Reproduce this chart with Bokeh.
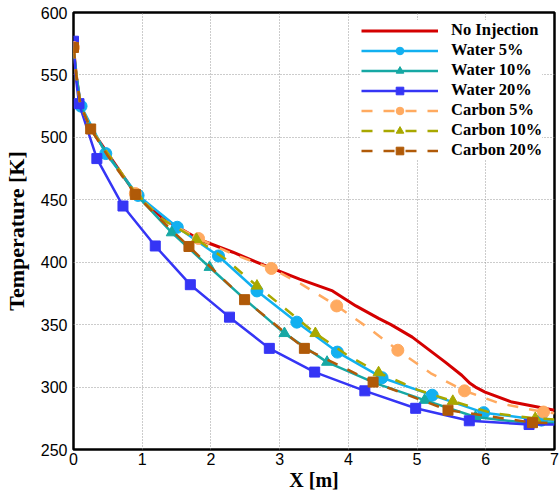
from bokeh.plotting import figure
from bokeh.models import Legend, LegendItem, FixedTicker, Range1d
from bokeh.embed import file_html
from bokeh.resources import INLINE

# ---------------- data ----------------
x_tick_values = [0, 1, 2, 3, 4, 5, 6, 7]
y_tick_values = [250, 300, 350, 400, 450, 500, 550, 600]

series_names = ["No Injection", "Water 5%", "Water 10%", "Water 20%",
                "Carbon 5%", "Carbon 10%", "Carbon 20%"]

# No Injection (line only)
noinj_x = [0, 0.04, 0.1, 0.25, 0.5, 0.9, 1.3, 1.84, 2.32, 2.8, 3.29, 3.77, 4.11, 4.44,
           4.62, 4.93, 5.41, 5.65, 5.77, 5.85, 5.99, 6.38, 7.0]
noinj_t = [572, 550, 526, 507, 487, 455, 435, 418, 408, 397, 386.5, 377, 365, 355,
           350, 340, 320, 309.5, 303, 300, 296, 288, 281.5]

# Water 5%
w5_x = [0, 0.04, 0.11, 0.47, 0.94, 1.51, 2.11, 2.67, 3.25, 3.84, 4.49, 5.22, 5.97, 6.81, 7.0]
w5_t = [572, 550, 525, 487, 453.5, 428, 405, 377, 352, 328, 307.5, 293.5, 279.5, 273.5, 273]
w5_mx = [0.11, 0.47, 0.94, 1.51, 2.11, 2.67, 3.25, 3.84, 4.49, 5.22, 5.97, 6.81]
w5_mt = [525, 487, 453.5, 428, 405, 377, 352, 328, 307.5, 293.5, 279.5, 273.5]

# Water 10%
w10_x = [0, 0.04, 0.1, 0.25, 0.5, 0.9, 1.43, 1.98, 2.5, 3.07, 3.69, 4.4, 5.11, 5.85, 6.5, 7.0]
w10_t = [572, 550, 526, 507, 486, 455, 423.7, 396, 370, 343, 320, 303, 289.5, 276, 272, 271]
w10_mx = [1.43, 1.98, 3.07, 3.69, 5.11, 5.85]
w10_mt = [423.7, 396, 343, 320, 289.5, 276]

# Water 20%
w20_x = [0, 0.03, 0.08, 0.34, 0.72, 1.19, 1.70, 2.27, 2.85, 3.51, 4.24, 4.98, 5.76, 6.63, 7.0]
w20_t = [577, 550, 527, 483, 445, 413, 382, 356, 331, 312, 297, 283, 273, 270, 270]
w20_mx = [0, 0.08, 0.34, 0.72, 1.19, 1.70, 2.27, 2.85, 3.51, 4.24, 4.98, 5.76, 6.63]
w20_mt = [577, 527, 483, 445, 413, 382, 356, 331, 312, 297, 283, 273, 270]

# Carbon 5%
c5_x = [0, 0.04, 0.1, 0.25, 0.5, 0.9, 1.3, 1.82, 2.3, 2.88, 3.3, 3.83, 4.3, 4.72, 5.2,
        5.69, 6.2, 6.84, 7.0]
c5_t = [572, 550, 526, 507, 487, 455, 434, 419, 407, 395, 383, 365, 347, 329.5, 311,
        297, 287, 280, 279]
c5_mx = [0, 0.9, 1.82, 2.88, 3.83, 4.72, 5.69, 6.84]
c5_mt = [572, 455, 419, 395, 365, 329.5, 297, 280]

# Carbon 10%
c10_x = [0, 0.04, 0.1, 0.25, 0.5, 0.93, 1.3, 1.79, 2.2, 2.67, 3.1, 3.52, 4.0, 4.44, 5.0,
         5.52, 6.1, 6.72, 7.0]
c10_t = [572, 550, 526, 507, 487, 453, 434, 418.4, 403, 381, 362, 343, 325, 311.6, 298,
         288.7, 279, 275, 274]
c10_mx = [0.93, 1.79, 2.67, 3.52, 4.44, 5.52, 6.72]
c10_mt = [453, 418.4, 381, 343, 311.6, 288.7, 275]

# Carbon 20%
c20_x = [0, 0.04, 0.1, 0.25, 0.5, 0.9, 1.25, 1.68, 2.49, 3.36, 4.36, 5.45, 6.68, 7.0]
c20_t = [572, 550, 526, 506.7, 485, 454.3, 435, 412.6, 370, 331, 304, 281.5, 271.5, 271]
c20_mx = [0, 0.25, 0.9, 1.68, 2.49, 3.36, 4.36, 5.45, 6.68]
c20_mt = [572, 506.7, 454.3, 412.6, 370, 331, 304, 281.5, 271.5]

# ---------------- figure ----------------
FW, FH = 481, 437
p = figure(frame_width=FW, frame_height=FH, output_backend="svg", toolbar_location=None,
           x_range=Range1d(0, 7), y_range=Range1d(250, 600),
           min_border_left=73, min_border_right=5, min_border_top=12, min_border_bottom=0)

p.background_fill_color = "white"
p.border_fill_color = "white"
p.outline_line_color = "black"
p.outline_line_width = 2.5
p.outline_line_alpha = 1.0

p.xaxis.ticker = FixedTicker(ticks=x_tick_values)
p.yaxis.ticker = FixedTicker(ticks=y_tick_values)
for ax in (p.xaxis[0], p.yaxis[0]):
    ax.axis_line_color = None
    ax.major_tick_line_color = None
    ax.minor_tick_line_color = None
    ax.major_label_text_font = "Liberation Sans"
    ax.major_label_text_font_size = "16px"
    ax.major_label_text_color = "black"
    ax.axis_label_text_font = "Liberation Serif"
    ax.axis_label_text_font_style = "bold"
    ax.axis_label_text_color = "black"
    ax.major_tick_out = 0
    ax.major_tick_in = 0

p.xaxis.axis_label = "X [m]"
p.yaxis.axis_label = "Temperature [K]"
p.xaxis.axis_label_text_font_size = "20px"
p.yaxis.axis_label_text_font_size = "22px"
p.xaxis.major_label_standoff = 3
p.yaxis.major_label_standoff = 6
p.xaxis.axis_label_standoff = 1
p.yaxis.axis_label_standoff = 9

for g in (p.xgrid[0], p.ygrid[0]):
    g.grid_line_color = "#999999"
    g.grid_line_dash = "1 2"
    g.grid_line_width = 1

LW = 2.5
items = []

r = p.line(noinj_x, noinj_t, line_color="#d40000", line_width=3)
items.append(LegendItem(label=series_names[0], renderers=[r]))

col = "#12b0f0"
r1 = p.line(w5_x, w5_t, line_color=col, line_width=LW)
r2 = p.scatter(w5_mx, w5_mt, marker="circle", size=12, fill_color=col, line_color=col)
items.append(LegendItem(label=series_names[1], renderers=[r1, r2]))

col = "#16a8a4"
r1 = p.line(w10_x, w10_t, line_color=col, line_width=LW)
r2 = p.scatter(w10_mx, w10_mt, marker="triangle", size=11, fill_color=col, line_color=col)
items.append(LegendItem(label=series_names[2], renderers=[r1, r2]))

col = "#3535f5"
r1 = p.line(w20_x, w20_t, line_color=col, line_width=LW)
r2 = p.scatter(w20_mx, w20_mt, marker="square", size=10, fill_color=col, line_color=col)
items.append(LegendItem(label=series_names[3], renderers=[r1, r2]))

col = "#ffaa60"
r1 = p.line(c5_x, c5_t, line_color=col, line_width=LW, line_dash="11 11")
r2 = p.scatter(c5_mx, c5_mt, marker="circle", size=12, fill_color=col, line_color=col)
items.append(LegendItem(label=series_names[4], renderers=[r1, r2]))

col = "#a8a800"
r1 = p.line(c10_x, c10_t, line_color=col, line_width=LW, line_dash="11 11")
r2 = p.scatter(c10_mx, c10_mt, marker="triangle", size=11, fill_color=col, line_color=col)
items.append(LegendItem(label=series_names[5], renderers=[r1, r2]))

col = "#b05a08"
r1 = p.line(c20_x, c20_t, line_color=col, line_width=LW, line_dash="11 11")
r2 = p.scatter(c20_mx, c20_mt, marker="square", size=10, fill_color=col, line_color=col)
items.append(LegendItem(label=series_names[6], renderers=[r1, r2]))

LEG_PAD, ROW_H, N_ROWS = 4, 20, 7
legend_h = 2 * LEG_PAD + ROW_H * N_ROWS - (N_ROWS - 1)
legend = Legend(items=items, location=(288, FH - 6 - legend_h),
                label_text_font="Liberation Serif", label_text_font_style="bold",
                label_text_font_size="16.5px", label_text_color="black",
                glyph_width=77, glyph_height=19, label_height=19, label_standoff=13,
                spacing=-1, padding=LEG_PAD, margin=0,
                border_line_color=None, background_fill_color="white",
                background_fill_alpha=1.0)
p.add_layout(legend)

open("out.html", "w").write(file_html(p, INLINE))
